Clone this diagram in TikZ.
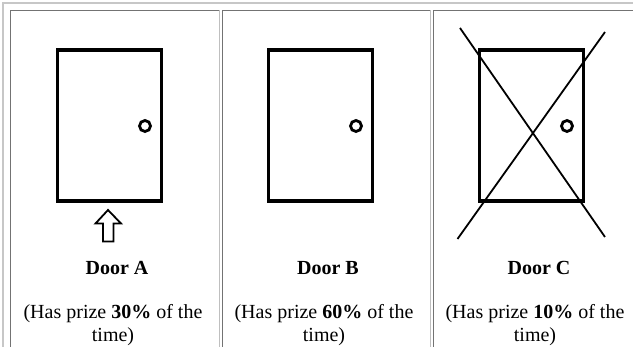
\documentclass[tikz,border=0pt]{standalone}
\usepackage{fontspec}
\setmainfont{Liberation Serif}
\usetikzlibrary{positioning}

\tikzset{
  doorframe/.style={line width=3.3pt},
  knob/.style={line width=2.8pt},
  cross/.style={line width=1.8pt},
  uparrow/.style={line width=1.8pt, line join=miter},
  celldark/.style={line width=1.3pt, black!55},
  celllight/.style={line width=1.3pt, black!25},
  doorlabel/.style={font=\fontsize{20}{22}\selectfont\bfseries, anchor=base},
  infotext/.style={font=\fontsize{20}{22.5}\selectfont, align=center, anchor=north}
}

\begin{document}
\begin{tikzpicture}[x=1pt, y=-1pt]

\useasboundingbox (0,0) rectangle (633,347);
\clip (0,0) rectangle (633,347);

% outer table border
\draw[line width=1.2pt, black!22] (3,360) -- (3,3) -- (640,3);

% ========== Door A: the chosen door ==========
\begin{scope}[shift={(0,0)}]
  \draw[celldark] (10.5,360) -- (10.5,10.5) -- (219,10.5);
  \draw[celllight] (219.5,10.5) -- (219.5,360);

  \draw[doorframe] (57.5,50) rectangle (161.5,201);
  \draw[knob] (145,126) circle (5.5);

  % pointer under the door
  \draw[uparrow] (108,210) -- (121,223.5) -- (113.5,223.5) -- (113.5,241.5)
    -- (103,241.5) -- (103,223.5) -- (95.5,223.5) -- cycle;

  \node[doorlabel] (labelA) at (117,275) {Door A};
  \node[infotext] (infoA) at (113,301) {(Has prize \textbf{30\%} of the\\time)};
\end{scope}

% ========== Door B ==========
\begin{scope}[shift={(211,0)}]
  \draw[celldark] (11.5,360) -- (11.5,10.5) -- (219,10.5);
  \draw[celllight] (219.5,10.5) -- (219.5,360);

  \draw[doorframe] (57.5,50) rectangle (161.5,201);
  \draw[knob] (145,126) circle (5.5);

  \node[doorlabel] (labelB) at (117,275) {Door B};
  \node[infotext] (infoB) at (113,301) {(Has prize \textbf{60\%} of the\\time)};
\end{scope}

% ========== Door C: opened, no prize ==========
\begin{scope}[shift={(422,0)}]
  \draw[celldark] (11.5,360) -- (11.5,10.5) -- (230,10.5);

  \draw[doorframe] (57.5,50) rectangle (161.5,201);
  \draw[knob] (145,126) circle (5.5);

  % crossed out
  \draw[cross] (38,28) -- (183,237);
  \draw[cross] (183,32) -- (35.5,239);

  \node[doorlabel] (labelC) at (117,275) {Door C};
  \node[infotext] (infoC) at (113,301) {(Has prize \textbf{10\%} of the\\time)};
\end{scope}

\end{tikzpicture}
\end{document}
